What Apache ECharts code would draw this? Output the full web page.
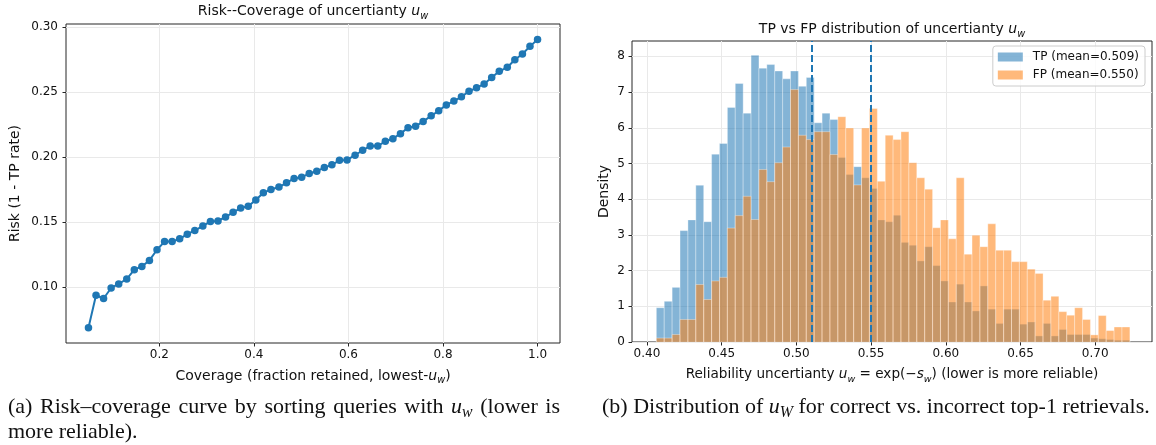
<!DOCTYPE html>
<html>
<head>
<meta charset="utf-8">
<script src="https://cdn.jsdelivr.net/npm/echarts@6/dist/echarts.min.js"></script>
<style>
html,body{margin:0;padding:0;background:#fff;}
#wrap{position:relative;width:1156px;height:445px;overflow:hidden;}
#chart{position:absolute;left:0;top:0;width:1156px;height:445px;}
.cap{position:absolute;font-family:"Liberation Serif","DejaVu Serif",serif;font-size:22px;color:#111;line-height:25px;}
.cap sub{font-size:0.72em;vertical-align:-0.25em;line-height:0;}
</style>
</head>
<body>
<div id="wrap">
  <div id="chart"></div>
  <div class="cap" style="left:8px;top:393px;width:552px;text-align:justify;text-align-last:justify;">(a) Risk–coverage curve by sorting queries with <i>u</i><sub><i>w</i></sub> (lower is</div>
  <div class="cap" style="left:8px;top:418px;white-space:nowrap;">more reliable).</div>
  <div class="cap" style="left:602px;top:393px;white-space:nowrap;">(b) Distribution of <i>u</i><sub><i>W</i></sub> for correct vs. incorrect top-1 retrievals.</div>
</div>
<script>
// (a) risk-coverage curve
const coverage = [
  0.050, 0.066, 0.082, 0.098, 0.114, 0.131, 0.147, 0.163, 0.179, 0.195,
  0.211, 0.227, 0.243, 0.259, 0.275, 0.292, 0.308, 0.324, 0.340, 0.356,
  0.372, 0.388, 0.404, 0.420, 0.436, 0.453, 0.469, 0.485, 0.501, 0.517,
  0.533, 0.549, 0.565, 0.581, 0.597, 0.614, 0.630, 0.646, 0.662, 0.678,
  0.694, 0.710, 0.726, 0.742, 0.758, 0.775, 0.791, 0.807, 0.823, 0.839,
  0.855, 0.871, 0.887, 0.903, 0.919, 0.936, 0.952, 0.968, 0.984, 1.000
];
const risk = [
  0.0686, 0.0936, 0.0911, 0.0992, 0.1023, 0.1061, 0.1133, 0.1158, 0.1204, 0.1286,
  0.1349, 0.1349, 0.1370, 0.1406, 0.1434, 0.1469, 0.1503, 0.1508, 0.1538, 0.1574,
  0.1607, 0.1620, 0.1668, 0.1724, 0.1750, 0.1768, 0.1801, 0.1834, 0.1844, 0.1872,
  0.1890, 0.1918, 0.1939, 0.1974, 0.1977, 0.2013, 0.2051, 0.2084, 0.2084, 0.2120,
  0.2140, 0.2179, 0.2224, 0.2235, 0.2273, 0.2316, 0.2355, 0.2400, 0.2429, 0.2462,
  0.2505, 0.2531, 0.2561, 0.2610, 0.2658, 0.2689, 0.2747, 0.2791, 0.2850, 0.2903
];
const covTicks = [0.2, 0.4, 0.6, 0.8, 1.0];
const riskTicks = [0.10, 0.15, 0.20, 0.25, 0.30];

// (b) histogram, 60 shared bins
const binLo = 0.4063;
const binHi = 0.7232;
const tpDensity = [
  0.96, 1.14, 1.53, 3.12, 3.42, 4.39, 3.37, 5.26, 5.56, 6.57,
  7.24, 6.41, 8.03, 7.67, 7.77, 7.59, 7.37, 7.59, 7.16, 7.41,
  6.14, 6.41, 6.23, 5.17, 4.69, 4.91, 4.60, 4.30, 3.42, 3.37,
  3.55, 2.79, 2.71, 2.27, 2.67, 2.14, 1.71, 1.12, 1.62, 1.12,
  0.87, 1.57, 0.92, 0.52, 0.92, 0.92, 0.50, 0.56, 0.17, 0.52,
  0.17, 0.35, 0.21, 0.21, 0.21, 0.11, 0.09, 0.07, 0.05, 0.05
];
const fpDensity = [
  0.11, 0.11, 0.21, 0.63, 0.63, 1.61, 1.19, 1.71, 1.81, 3.19,
  3.54, 4.08, 3.43, 4.83, 4.49, 5.02, 5.46, 7.07, 5.79, 5.67,
  5.89, 5.89, 5.25, 6.31, 5.99, 4.40, 5.99, 6.54, 4.50, 5.79,
  5.67, 5.89, 5.02, 4.60, 4.28, 3.20, 3.42, 2.89, 4.60, 2.46,
  2.99, 2.67, 3.31, 2.57, 2.57, 2.25, 2.25, 2.04, 1.92, 1.17,
  1.28, 0.85, 0.75, 0.96, 0.63, 0.20, 0.74, 0.32, 0.42, 0.42
];
const means = [0.509, 0.550];
const uTicks = [0.40, 0.45, 0.50, 0.55, 0.60, 0.65, 0.70];
const densityTicks = [0, 1, 2, 3, 4, 5, 6, 7, 8];

const font = "DejaVu Sans";
const ink = "#111";
const frame = "#262626";
const gridCol = "#e9e9e9";

// u_w style math for rich text
const makeRich = size => ({
  i: {fontFamily: font, fontStyle: "italic", fontSize: size, color: ink, lineHeight: size + 6},
  s: {fontFamily: font, fontStyle: "italic", fontSize: size * 0.7, color: ink, lineHeight: size * 0.7, verticalAlign: "bottom"},
  n: {fontFamily: font, fontSize: size, color: ink, lineHeight: size + 6}
});
const labelSize = 14;
const rich = makeRich(labelSize);
const richSmall = makeRich(13.6);

const binWidth = (binHi - binLo) / tpDensity.length;
const toBins = arr => arr.map((v, k) => [binLo + k * binWidth, binLo + (k + 1) * binWidth, v]);

const histItem = (params, api) => {
  const p0 = api.coord([api.value(0), 0]);
  const p1 = api.coord([api.value(1), api.value(2)]);
  return {
    type: "rect",
    shape: {x: p0[0], y: p1[1], width: p1[0] - p0[0], height: p0[1] - p1[1]},
    style: {fill: api.visual("color"), stroke: "rgba(255,255,255,0.55)", lineWidth: 0.6}
  };
};

const axisBase = (ticks, fmt, margin) => ({
  type: "value",
  axisLine: {show: false},
  axisTick: {show: true, length: 3.5, lineStyle: {color: frame, width: 1}, customValues: ticks},
  axisLabel: {customValues: ticks, formatter: fmt, fontFamily: font, fontSize: 12, color: ink, margin: margin},
  splitLine: {show: true, lineStyle: {color: gridCol, width: 1}}
});

const tpName = "TP (mean=" + means[0].toFixed(3) + ")";
const fpName = "FP (mean=" + means[1].toFixed(3) + ")";

const chart = echarts.init(document.getElementById("chart"));

chart.setOption({
  animation: false,
  grid: [
    {left: 66, top: 24, width: 494, height: 319, show: true, borderColor: frame, borderWidth: 1},
    {left: 632, top: 41, width: 520, height: 301, show: true, borderColor: frame, borderWidth: 1}
  ],
  xAxis: [
    Object.assign(axisBase(covTicks, v => v.toFixed(1), 6), {
      gridIndex: 0, min: 0.0025, max: 1.0475,
      name: "{n|Coverage (fraction retained, lowest-}{i|u}{s|w}{n|)}",
      nameLocation: "middle", nameGap: 21,
      nameTextStyle: {fontFamily: font, fontSize: labelSize, color: ink, lineHeight: labelSize + 6, rich: rich}
    }),
    Object.assign(axisBase(uTicks, v => v.toFixed(2), 6), {
      gridIndex: 1, min: 0.390, max: 0.738,
      name: "{n|Reliability uncertianty }{i|u}{s|w}{n| = exp(−}{i|s}{s|w}{n|) (lower is more reliable)}",
      nameLocation: "middle", nameGap: 19,
      nameTextStyle: {fontFamily: font, fontSize: 13.6, color: ink, lineHeight: 19.6, rich: richSmall}
    })
  ],
  yAxis: [
    Object.assign(axisBase(riskTicks, v => v.toFixed(2), 8), {
      gridIndex: 0, min: 0.0569, max: 0.3022,
      name: "Risk (1 - TP rate)", nameLocation: "middle", nameGap: 44,
      nameTextStyle: {fontFamily: font, fontSize: labelSize, color: ink}
    }),
    Object.assign(axisBase(densityTicks, v => String(v), 7), {
      gridIndex: 1, min: 0, max: 8.43,
      name: "Density", nameLocation: "middle", nameGap: 21,
      nameTextStyle: {fontFamily: font, fontSize: labelSize, color: ink}
    })
  ],
  legend: {
    data: [{name: tpName, icon: "rect"}, {name: fpName, icon: "rect"}],
    orient: "vertical", right: 11, top: 46,
    itemWidth: 25, itemHeight: 9, itemGap: 4,
    padding: [4, 6, 4, 5],
    borderColor: "#cccccc", borderWidth: 1, borderRadius: 3,
    backgroundColor: "rgba(255,255,255,0.8)",
    itemStyle: {borderWidth: 0},
    textStyle: {fontFamily: font, fontSize: 12, color: ink, lineHeight: 14, padding: [0, 0, 0, 5]}
  },
  graphic: [
    {
      type: "text", x: 313, y: 11,
      style: {text: "{n|Risk--Coverage of uncertianty }{i|u}{s|w}", rich: rich, align: "center", verticalAlign: "middle", fill: ink, font: labelSize + "px DejaVu Sans"}
    },
    {
      type: "text", x: 892, y: 29,
      style: {text: "{n|TP vs FP distribution of uncertianty }{i|u}{s|w}", rich: rich, align: "center", verticalAlign: "middle", fill: ink, font: labelSize + "px DejaVu Sans"}
    }
  ],
  series: [
    {
      type: "line", xAxisIndex: 0, yAxisIndex: 0,
      data: coverage.map((c, k) => [c, risk[k]]),
      symbol: "circle", symbolSize: 7.5,
      itemStyle: {color: "#1f77b4"},
      lineStyle: {color: "#1f77b4", width: 2}
    },
    {
      type: "custom", name: tpName, xAxisIndex: 1, yAxisIndex: 1,
      renderItem: histItem, data: toBins(tpDensity),
      encode: {x: [0, 1], y: 2},
      itemStyle: {color: "rgba(31,119,180,0.55)"}
    },
    {
      type: "custom", name: fpName, xAxisIndex: 1, yAxisIndex: 1,
      renderItem: histItem, data: toBins(fpDensity),
      encode: {x: [0, 1], y: 2},
      itemStyle: {color: "rgba(255,127,14,0.55)"}
    },
    {
      type: "line", xAxisIndex: 1, yAxisIndex: 1, data: [], z: 5,
      markLine: {
        silent: true, symbol: "none", label: {show: false},
        lineStyle: {color: "#1f77b4", width: 2, type: [7, 3]},
        data: means.map(m => ({xAxis: m}))
      }
    }
  ]
});
</script>
</body>
</html>
